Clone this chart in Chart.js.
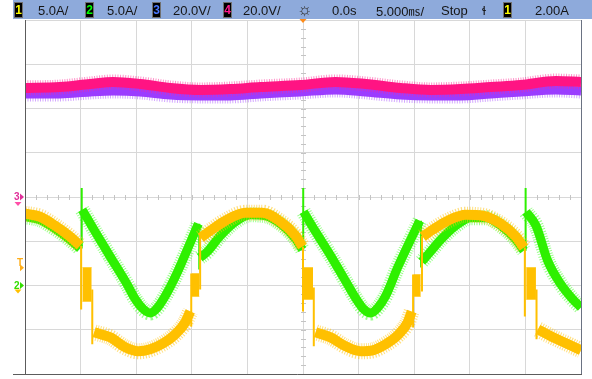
<!DOCTYPE html>
<html>
<head>
<meta charset="utf-8">
<script src="https://cdn.jsdelivr.net/npm/chart.js@4.4.1/dist/chart.umd.min.js"></script>
<style>
  html, body { margin: 0; padding: 0; background: #fff; }
  #wrap { position: relative; width: 592px; height: 379px; overflow: hidden; font-family: "Liberation Sans", Arial, sans-serif; }
  #c { position: absolute; left: 0; top: 0; }
  #hdr { position: absolute; left: 13px; top: 0; width: 579px; height: 19px; background: #8eaadb; }
  .t { position: absolute; top: 0; font-size: 13px; line-height: 21px; color: #151515; white-space: nowrap; }
  .n { position: absolute; top: 2px; width: 7px; height: 14px; background: #000; border: 1px solid #707070;
       font: bold 12px/14px "Liberation Sans", Arial, sans-serif; text-align: center; }
  .mk { position: absolute; font: bold 10px/10px "Liberation Sans", Arial, sans-serif; }
</style>
</head>
<body>
<div id="wrap">
  <canvas id="c" width="592" height="379"></canvas>
  <div id="hdr"></div>
  <span class="n" style="left:14px;color:#ffff00">1</span><span class="t" style="left:38px">5.0A/</span>
  <span class="n" style="left:85px;color:#00ff00">2</span><span class="t" style="left:107px">5.0A/</span>
  <span class="n" style="left:152px;color:#4a78ff">3</span><span class="t" style="left:173px">20.0V/</span>
  <span class="n" style="left:223px;color:#ff1a8c">4</span><span class="t" style="left:243px">20.0V/</span>
  <span class="t" style="left:297px;font-size:17px;line-height:19px;color:#333">☼</span>
  <span class="t" style="left:332px">0.0s</span>
  <span class="t" style="left:376px">5.000<span style="font-family:'Noto Sans CJK SC';font-size:12px">㎳</span>/</span>
  <span class="t" style="left:441px">Stop</span>
  <span class="t" style="left:482px">ɬ</span>
  <span class="n" style="left:503px;color:#ffff00">1</span><span class="t" style="left:535px">2.00A</span>
  <span class="mk" id="m3" style="color:#e0309a">3</span>
  <span class="mk" id="mT" style="color:#ffae1a">T</span>
  <span class="mk" id="m2" style="color:#33dd00">2</span>
</div>
<script>
// Horizontal: time in ms relative to the trigger point (5 ms/div, 10 div)
const timeMin = -25, timeMax = 25;
// Channels 1 and 2: current, 5 A/div, ground two divisions below centre
const currentMin = -10, currentMax = 30;
// Channels 3 and 4: voltage, 20 V/div, ground at centre
const voltMin = -80, voltMax = 80;
const triggerLevel = 2.00;

// Channel 1 (yellow) current, A; null marks a break in the trace
const ch1T = [-25, -23.65, -22.30, -20.95, -20.05, -19.4, -18.78, -17.34, -15.99, -14.82, -13.74, -12.57, -11.49, -10.59, -10.14, -9.6,
  -9.19, -8.33, -6.98, -5.18, -3.65, -2.03, -0.68, -0.05, 0.5, 1.13, 2.48, 3.83, 5.18, 6.26, 7.43, 8.51, 9.41, 9.77, 10.3,
  10.77, 11.67, 13.02, 14.64, 16.17, 17.79, 19.14, 19.86, 20.5, 21.13, 22.30, 23.65, 25];
const ch1A = [8.11, 7.77, 6.76, 5.52, 4.50, null, -5.29, -5.86, -6.98, -7.43, -7.21, -6.53, -5.52, -4.17, -2.93, null,
  5.40, 6.19, 7.32, 8.22, 8.22, 7.21, 5.63, 4.39, null, -5.29, -5.86, -6.87, -7.43, -7.32, -6.64, -5.63, -4.17, -2.93, null,
  5.52, 6.31, 7.32, 7.99, 7.88, 6.98, 5.52, 4.28, null, -4.95, -5.74, -6.53, -7.32];

// Channel 1 noisy plateaus right after each switching edge: start, end, top, bottom
const ch1BurstT0 = [-19.84, -10.0, 0.07, 9.95, 20.07];
const ch1BurstT1 = [-19.0, -9.32, 0.90, 10.59, 20.95];
const ch1BurstHi = [2.03, 1.35, 2.03, 1.24, 2.03];
const ch1BurstLo = [-1.80, -1.24, -1.58, -1.24, -1.58];

// Channel 1 switching edges (vertical transients)
const ch1EdgeT = [-19.95, -18.95, -10.05, -9.25, 0.0, 0.97, 9.9, 10.7, 19.95, 21.0];
const ch1EdgeLo = [-2.70, -6.64, -4.62, -0.45, -2.93, -6.87, -4.73, -0.68, -3.49, -6.08];
const ch1EdgeHi = [4.50, -0.45, 1.35, 5.63, 4.39, -0.23, 1.24, 5.63, 4.28, -0.45];

// Channel 2 (green) current, A
const ch2T = [-25, -23.65, -22.30, -20.95, -20.05, -19.95, -19.86, -18.69, -17.34, -15.81, -15.09, -14.37, -13.74, -13.11, -12.39,
  -11.31, -10.14, -9.41, -9.35, -9.28, -8.60, -7.43, -6.08, -4.73, -3.38, -2.03, -0.68, -0.05, 0, 0.05, 1.13, 2.48, 4.01, 4.73,
  5.45, 6.08, 6.71, 7.43, 8.51, 9.68, 10.50, 10.6, 10.68, 11.31, 12.39, 13.74, 15.09, 16.44, 17.79, 19.14, 19.86, 19.95, 20.05,
  20.95, 22.03, 23.2, 24.28, 25];
const ch2A = [7.77, 7.43, 6.42, 5.18, 4.17, null, 8.56, 6.08, 3.27, 0.11, -1.53, -2.66, -3.11, -2.54, -1.19,
  1.46, 4.84, 6.98, null, 3.15, 3.83, 5.63, 7.21, 7.99, 7.88, 6.98, 5.29, 4.05, null, 8.33, 6.08, 3.38, 0.11, -1.41,
  -2.66, -3.11, -2.54, -1.19, 2.03, 5.18, 7.32, null, 2.70, 3.60, 5.18, 6.76, 7.66, 7.66, 6.76, 5.18, 3.94, null, 8.33,
  6.76, 2.70, 0.11, -1.58, -2.48];

// Channel 2 switching edges
const ch2EdgeT = [-19.9, -9.33, 0.02, 10.62, 20.02];
const ch2EdgeLo = [4.17, 1.80, 4.05, 2.03, 3.94];
const ch2EdgeHi = [11.03, 6.98, 11.03, 7.32, 11.03];

// Channels 3 (violet) and 4 (pink) voltage, V
const vT = [-25, -21.85, -19.14, -17.07, -14.64, -11.94, -9.23, -6.53, -3.83, -0.23, 2.93, 5.63, 8.78, 11.49, 14.19, 16.89, 19.59, 22.75, 25];
const ch3V = [46.6, 46.6, 47.5, 47.9, 47.5, 46.1, 45.7, 45.7, 46.6, 47.5, 48.4, 47.5, 46.1, 45.7, 45.7, 46.6, 47.5, 48.4, 47.9];
const ch4V = [49.3, 49.7, 51.1, 52.0, 51.1, 49.3, 48.4, 48.8, 49.7, 50.6, 52.0, 51.1, 49.3, 48.4, 48.8, 49.7, 50.6, 52.4, 52.0];

const pts = (t, v) => t.map((x, i) => ({ x, y: v[i] }));
const edges = (t, lo, hi) => t.flatMap((x, i) => [{ x, y: lo[i] }, { x, y: hi[i] }, { x, y: null }]);
const runs = (t0, t1, v) => t0.flatMap((x, i) => [{ x, y: v[i] }, { x: t1[i], y: v[i] }, { x: t1[i], y: null }]);

const YEL = '#ffc000', YEL_F = 'rgba(255,196,20,0.55)';
const GRN = '#2ef000', GRN_F = 'rgba(70,255,40,0.55)';
const PNK = '#ff1483', PNK_F = 'rgba(255,40,150,0.5)';
const VIO = '#9b3cff', VIO_F = 'rgba(175,95,255,0.55)';
const grain = [1, 1.5];   // dashed halo gives the trace edges a grainy look

function trace(label, data, axis, color, width, order, extra) {
  return Object.assign({ label, data, yAxisID: axis, borderColor: color, borderWidth: width, order,
    pointRadius: 0, fill: false, spanGaps: false }, extra || {});
}
const smooth = { cubicInterpolationMode: 'monotone' };
const halo = { cubicInterpolationMode: 'monotone', borderDash: grain };

const datasets = [
  trace('ch3 halo', pts(vT, ch3V), 'yV', VIO_F, 15, 20, halo),
  trace('ch3', pts(vT, ch3V), 'yV', VIO, 9, 19, smooth),
  trace('ch4 halo', pts(vT, ch4V), 'yV', PNK_F, 15, 18, halo),
  trace('ch4', pts(vT, ch4V), 'yV', PNK, 10, 17, smooth),
  trace('ch2 halo', pts(ch2T, ch2A), 'yI', GRN_F, 15, 16, halo),
  trace('ch2', pts(ch2T, ch2A), 'yI', GRN, 9, 15, smooth),
  trace('ch2 edges', edges(ch2EdgeT, ch2EdgeLo, ch2EdgeHi), 'yI', GRN, 2, 14),
  trace('ch1 halo', pts(ch1T, ch1A), 'yI', YEL_F, 16, 13, halo),
  trace('ch1', pts(ch1T, ch1A), 'yI', YEL, 10, 12, smooth),
  trace('ch1 edges', edges(ch1EdgeT, ch1EdgeLo, ch1EdgeHi), 'yI', YEL, 2, 11),
  trace('ch1 burst top', runs(ch1BurstT0, ch1BurstT1, ch1BurstHi), 'yI', YEL_F, 1, 10),
  trace('ch1 burst bottom', runs(ch1BurstT0, ch1BurstT1, ch1BurstLo), 'yI', YEL_F, 1, 9,
    { fill: '-1', backgroundColor: YEL })
];

// Graticule extras, frame, trigger and channel ground markers
const scopeFrame = {
  id: 'scopeFrame',
  beforeDatasetsDraw(chart) {
    const { ctx, scales } = chart;
    const x0 = Math.round(scales.x.getPixelForValue(0)) + 0.5;
    const yMid = Math.round(scales.yV.getPixelForValue(0)) + 0.5;
    ctx.save();
    ctx.strokeStyle = '#c4c4c4';
    ctx.lineWidth = 1;
    ctx.beginPath();
    for (let t = timeMin + 1; t < timeMax; t += 1) {
      const px = Math.round(scales.x.getPixelForValue(t)) + 0.5;
      ctx.moveTo(px, yMid - 2.5); ctx.lineTo(px, yMid + 2.5);
    }
    for (let a = currentMin + 1; a < currentMax; a += 1) {
      const py = Math.round(scales.yI.getPixelForValue(a)) + 0.5;
      ctx.moveTo(x0 - 2.5, py); ctx.lineTo(x0 + 2.5, py);
    }
    ctx.stroke();
    ctx.restore();
  },
  afterDatasetsDraw(chart) {
    const { ctx, chartArea: a, scales } = chart;
    ctx.save();
    ctx.strokeStyle = '#5c5c5c';
    ctx.lineWidth = 1;
    ctx.beginPath();
    ctx.moveTo(a.left + 0.5, a.top); ctx.lineTo(a.left + 0.5, a.bottom);
    ctx.moveTo(a.left - 12, a.bottom + 0.5); ctx.lineTo(a.right + 1, a.bottom + 0.5);
    ctx.stroke();
    ctx.strokeStyle = '#6a7282';
    ctx.beginPath();
    ctx.moveTo(a.right + 0.5, a.top); ctx.lineTo(a.right + 0.5, a.bottom);
    ctx.stroke();

    const tri = (color, x, y, dir) => {
      ctx.fillStyle = color;
      ctx.beginPath();
      if (dir === 'right') { ctx.moveTo(x - 4, y - 3.5); ctx.lineTo(x, y); ctx.lineTo(x - 4, y + 3.5); }
      else { ctx.moveTo(x - 3.5, y); ctx.lineTo(x + 3.5, y); ctx.lineTo(x, y + 4); }
      ctx.closePath();
      ctx.fill();
    };
    const x0 = scales.x.getPixelForValue(0);
    tri('#ff8c1a', x0, a.top - 1, 'down');
    const yV0 = scales.yV.getPixelForValue(0);
    const yI0 = scales.yI.getPixelForValue(0);
    const yT = scales.yI.getPixelForValue(triggerLevel);
    tri('#e0309a', a.left - 1, yV0, 'right');
    tri('#ff4fa8', a.left - 7, yV0 + 5, 'down');
    tri('#ffae1a', a.left - 1, yT, 'right');
    tri('#33dd00', a.left - 1, yI0, 'right');
    tri('#ffc000', a.left - 7, yI0 + 4, 'down');
    ctx.restore();
  }
};

const grid = { color: '#d8d8d8', lineWidth: 1, drawTicks: false };

const chart = new Chart(document.getElementById('c'), {
  type: 'line',
  data: { datasets },
  options: {
    responsive: false,
    animation: false,
    devicePixelRatio: 1,
    layout: { padding: { left: 25, right: 11, top: 20, bottom: 5 } },
    plugins: { legend: { display: false }, tooltip: { enabled: false } },
    elements: { line: { tension: 0, borderCapStyle: 'butt', borderJoinStyle: 'round' }, point: { radius: 0 } },
    scales: {
      x: { type: 'linear', min: timeMin, max: timeMax, ticks: { display: false, stepSize: 5 }, grid, border: { display: false } },
      yI: { type: 'linear', position: 'left', min: currentMin, max: currentMax, ticks: { display: false, stepSize: 5 }, grid, border: { display: false } },
      yV: { type: 'linear', position: 'right', min: voltMin, max: voltMax, display: false }
    }
  },
  plugins: [scopeFrame]
});

// Place the channel / trigger labels next to their ground markers
function place(id, x, y) {
  const el = document.getElementById(id);
  el.style.left = x + 'px';
  el.style.top = (y - 5) + 'px';
}
const ca = chart.chartArea;
place('m3', ca.left - 11, chart.scales.yV.getPixelForValue(0));
place('mT', ca.left - 8, chart.scales.yI.getPixelForValue(triggerLevel) - 5);
place('m2', ca.left - 11, chart.scales.yI.getPixelForValue(0));
</script>
</body>
</html>
